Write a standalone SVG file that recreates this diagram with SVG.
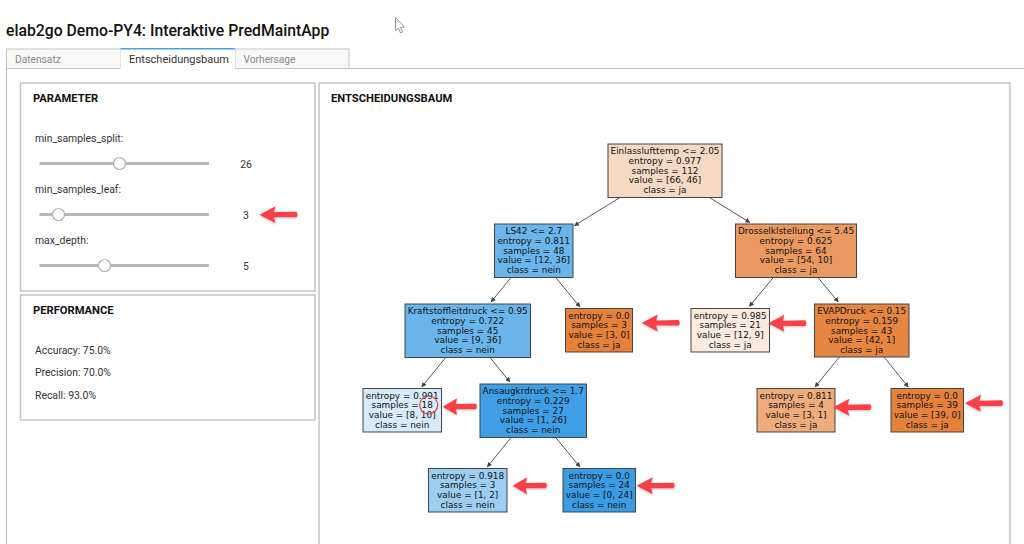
<svg xmlns="http://www.w3.org/2000/svg" width="1024" height="544" viewBox="0 0 1024 544">
<style>
.ui{font-family:Roboto,"Liberation Sans",sans-serif;fill:#333}
.h{font-size:11.2px;font-weight:700;fill:#111}
.t{font-size:10.4px}
.tab{font-size:11px}
.off{font-size:10.2px;fill:#888}
.panel{fill:#fff;stroke:#c4c4c4;stroke-width:1.5}
.track{stroke:#b8b8b8;stroke-width:3}
.thumb{fill:#fff;stroke:#b0b0b0;stroke-width:1.2}
.n rect{stroke:#444;stroke-width:1}
.n text{font-family:"DejaVu Sans",sans-serif;font-size:8.9px;fill:#111;text-anchor:middle}
#connectors line{stroke:#444;stroke-width:.9;marker-end:url(#ah)}
.red{fill:#f9404a;filter:url(#sh)}
</style>
<defs>
<marker id="ah" viewBox="0 0 6 6" refX="5.500" refY="3" markerWidth="5" markerHeight="5" orient="auto" markerUnits="userSpaceOnUse"><path d="M0 0L6 3L0 6z" fill="#444"/></marker>
<filter id="sh" x="-20%" y="-30%" width="140%" height="170%"><feDropShadow dx="0" dy="1" stdDeviation="1" flood-color="#000" flood-opacity=".25"/></filter>
<path id="arr" d="M0 0L16 -8.500L14.500 -2.600L37 -3Q39 0 37 2.600L14.500 2.600L16 8.500Z"/>
</defs>
<rect width="1024" height="544" fill="#fff"/>
<text class="ui" x="6" y="36" font-size="15.750" font-weight="500" style="fill:#111">elab2go Demo-PY4: Interaktive PredMaintApp</text>
<path d="M395.500 17.500V30.500L398.500 28L400.500 33L402.500 32L400.500 27.500L404.500 27Z" fill="#fff" stroke="#888" stroke-width=".9"/>
<g id="tabs">
<path d="M1024 68.500H6.500V544" stroke="#c4c4c4" fill="none" stroke-width="1.200"/>
<rect x="6.500" y="49" width="114" height="19.500" fill="#f8f8f8" stroke="#c4c4c4"/>
<rect x="235" y="49" width="114" height="19.500" fill="#f8f8f8" stroke="#c4c4c4"/>
<rect x="120.500" y="49" width="114.500" height="20.500" fill="#fff"/>
<path d="M120.500 48.800H235" stroke="#4a9fe0" stroke-width="1.500"/>
<text class="ui tab off" x="15" y="62.500">Datensatz</text>
<text class="ui tab" x="129" y="62.500">Entscheidungsbaum</text>
<text class="ui tab off" x="243.500" y="62.500">Vorhersage</text>
</g>
<g id="parameter">
<rect class="panel" x="20.500" y="83" width="294.500" height="208"/>
<text class="ui h" x="33" y="102">PARAMETER</text>
<text class="ui t" x="35" y="142">min_samples_split:</text>
<text class="ui t" x="35" y="193">min_samples_leaf:</text>
<text class="ui t" x="35" y="244">max_depth:</text>
<path class="track" d="M39.500 163.500H209M39.500 214.500H209M39.500 265.500H209"/>
<circle class="thumb" cx="119.500" cy="163.500" r="6"/>
<circle class="thumb" cx="58.500" cy="214.500" r="6"/>
<circle class="thumb" cx="104.500" cy="265.500" r="6"/>
<text class="ui t" x="246" y="167.500" text-anchor="middle">26</text>
<text class="ui t" x="246" y="218.500" text-anchor="middle">3</text>
<text class="ui t" x="246" y="269.500" text-anchor="middle">5</text>
</g>
<g id="performance">
<rect class="panel" x="20.500" y="295" width="294.500" height="125"/>
<text class="ui h" x="33" y="314">PERFORMANCE</text>
<text class="ui t" x="35" y="354">Accuracy: 75.0%</text>
<text class="ui t" x="35" y="376">Precision: 70.0%</text>
<text class="ui t" x="35" y="399">Recall: 93.0%</text>
</g>
<g id="tree-panel">
<rect class="panel" x="319" y="83" width="691" height="470"/>
<text class="ui h" x="331" y="102">ENTSCHEIDUNGSBAUM</text>
</g>
<g id="connectors">
<line x1="620" y1="197.500" x2="574.300" y2="225.700"/>
<line x1="709.300" y1="197.500" x2="750" y2="222.500"/>
<line x1="511" y1="277.500" x2="491" y2="302"/>
<line x1="555.700" y1="277.500" x2="580" y2="307"/>
<line x1="445.700" y1="357.500" x2="421.700" y2="387"/>
<line x1="490" y1="357.500" x2="510" y2="382"/>
<line x1="773.300" y1="277.500" x2="749.300" y2="306.500"/>
<line x1="818" y1="277.500" x2="838.300" y2="302"/>
<line x1="839.300" y1="357" x2="815" y2="387"/>
<line x1="884" y1="357" x2="908.300" y2="387"/>
<line x1="511" y1="437.500" x2="487.300" y2="467"/>
<line x1="555.700" y1="437.500" x2="580" y2="467"/>
</g>
<g id="n0" class="n"><rect x="608" y="144" width="114" height="53.500" fill="#f6d9c4"/><text x="665" y="154">Einlasslufttemp &lt;= 2.05</text><text x="665" y="163.800">entropy = 0.977</text><text x="665" y="173.600">samples = 112</text><text x="665" y="183.400">value = [66, 46]</text><text x="665" y="193.200">class = ja</text></g>
<g id="n1" class="n"><rect x="494.500" y="224" width="78.500" height="53.500" fill="#6ab6ec"/><text x="533.800" y="234">LS42 &lt;= 2.7</text><text x="533.800" y="243.800">entropy = 0.811</text><text x="533.800" y="253.600">samples = 48</text><text x="533.800" y="263.400">value = [12, 36]</text><text x="533.800" y="273.200">class = nein</text></g>
<g id="n2" class="n"><rect x="735.500" y="224" width="121" height="53.500" fill="#ea9a61"/><text x="796" y="234">Drosselklstellung &lt;= 5.45</text><text x="796" y="243.800">entropy = 0.625</text><text x="796" y="253.600">samples = 64</text><text x="796" y="263.400">value = [54, 10]</text><text x="796" y="273.200">class = ja</text></g>
<g id="n3" class="n"><rect x="405" y="304" width="125.500" height="53.500" fill="#6ab6ec"/><text x="467.700" y="314">Kraftstoffleitdruck &lt;= 0.95</text><text x="467.700" y="323.800">entropy = 0.722</text><text x="467.700" y="333.600">samples = 45</text><text x="467.700" y="343.400">value = [9, 36]</text><text x="467.700" y="353.200">class = nein</text></g>
<g id="n4" class="n"><rect x="565.500" y="308.500" width="67" height="43.500" fill="#e58139"/><text x="599" y="318.500">entropy = 0.0</text><text x="599" y="328.300">samples = 3</text><text x="599" y="338.100">value = [3, 0]</text><text x="599" y="347.900">class = ja</text></g>
<g id="n5" class="n"><rect x="691" y="308.500" width="78.500" height="43.500" fill="#fbeade"/><text x="730.200" y="318.500">entropy = 0.985</text><text x="730.200" y="328.300">samples = 21</text><text x="730.200" y="338.100">value = [12, 9]</text><text x="730.200" y="347.900">class = ja</text></g>
<g id="n6" class="n"><rect x="814.500" y="304" width="94.500" height="53" fill="#e68640"/><text x="861.700" y="314">EVAPDruck &lt;= 0.15</text><text x="861.700" y="323.800">entropy = 0.159</text><text x="861.700" y="333.600">samples = 43</text><text x="861.700" y="343.400">value = [42, 1]</text><text x="861.700" y="353.200">class = ja</text></g>
<g id="n7" class="n"><rect x="363" y="388.500" width="78.500" height="43.500" fill="#d7ebfa"/><text x="402.200" y="398.500">entropy = 0.991</text><text x="402.200" y="408.300">samples = 18</text><text x="402.200" y="418.100">value = [8, 10]</text><text x="402.200" y="427.900">class = nein</text></g>
<g id="n8" class="n"><rect x="480" y="384" width="106.500" height="53.500" fill="#3e9fe6"/><text x="533.200" y="394">Ansaugkrdruck &lt;= 1.7</text><text x="533.200" y="403.800">entropy = 0.229</text><text x="533.200" y="413.600">samples = 27</text><text x="533.200" y="423.400">value = [1, 26]</text><text x="533.200" y="433.200">class = nein</text></g>
<g id="n9" class="n"><rect x="757" y="388.500" width="78" height="43.500" fill="#eeab7b"/><text x="796" y="398.500">entropy = 0.811</text><text x="796" y="408.300">samples = 4</text><text x="796" y="418.100">value = [3, 1]</text><text x="796" y="427.900">class = ja</text></g>
<g id="n10" class="n"><rect x="891" y="388.500" width="72.500" height="43.500" fill="#e58139"/><text x="927.200" y="398.500">entropy = 0.0</text><text x="927.200" y="408.300">samples = 39</text><text x="927.200" y="418.100">value = [39, 0]</text><text x="927.200" y="427.900">class = ja</text></g>
<g id="n11" class="n"><rect x="428.500" y="468.500" width="78.500" height="43.500" fill="#9ccef2"/><text x="467.700" y="478.500">entropy = 0.918</text><text x="467.700" y="488.300">samples = 3</text><text x="467.700" y="498.100">value = [1, 2]</text><text x="467.700" y="507.900">class = nein</text></g>
<g id="n12" class="n"><rect x="563" y="468.500" width="72.500" height="43.500" fill="#399de5"/><text x="599.200" y="478.500">entropy = 0.0</text><text x="599.200" y="488.300">samples = 24</text><text x="599.200" y="498.100">value = [0, 24]</text><text x="599.200" y="507.900">class = nein</text></g>
<g id="annotations">
<circle cx="428.700" cy="405" r="9" fill="none" stroke="#e0404a" stroke-width="1.200"/>
<use href="#arr" class="red" transform="translate(259.500 214.700)"/>
<use href="#arr" class="red" transform="translate(641.700 323)"/>
<use href="#arr" class="red" transform="translate(768.300 323.300)"/>
<use href="#arr" class="red" transform="translate(833.300 407.300)"/>
<use href="#arr" class="red" transform="translate(965 403.300)"/>
<use href="#arr" class="red" transform="translate(442.700 406.700) scale(.9 1)"/>
<use href="#arr" class="red" transform="translate(512.700 485.700) scale(.9 1)"/>
<use href="#arr" class="red" transform="translate(636.700 485.700)"/>
</g>
</svg>
